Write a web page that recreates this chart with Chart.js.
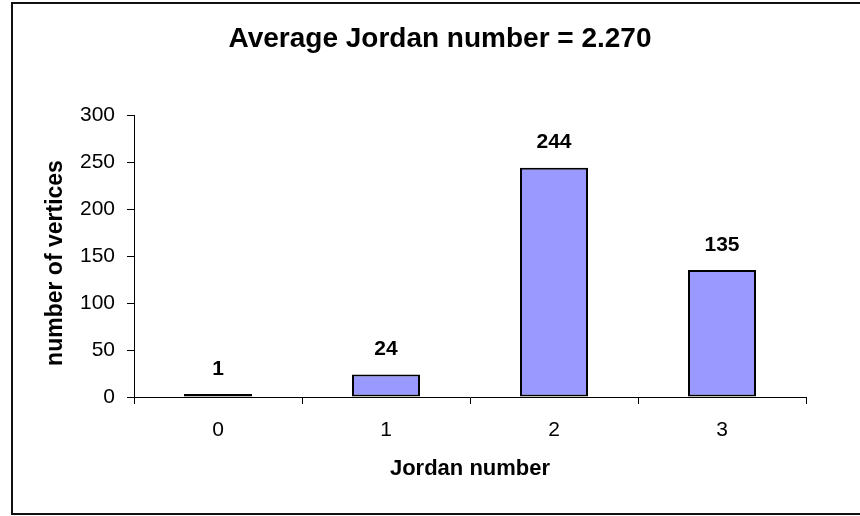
<!DOCTYPE html>
<html>
<head>
<meta charset="utf-8">
<script src="https://cdn.jsdelivr.net/npm/chart.js@4/dist/chart.umd.min.js"></script>
<style>
  body { margin: 0; background: #fff; }
  canvas { display: block; }
</style>
</head>
<body>
<canvas id="chart" width="860" height="516"></canvas>
<script>
// dados do gráfico
const categorias = ['0', '1', '2', '3']          // Jordan number
const vertices = [1, 24, 244, 135]               // number of vertices
const yTicks = [0, 50, 100, 150, 200, 250, 300]
const titulo = 'Average Jordan number = 2.270'
const tituloY = 'number of vertices'

const fonte = 'Liberation Sans, Arial, sans-serif'

// moldura + títulos + rótulos de dados
const extras = {
    id: 'extras',
    beforeDraw(chart) {
        const ctx = chart.ctx
        ctx.save()
        ctx.fillStyle = '#fff'
        ctx.fillRect(0, 0, chart.width, chart.height)
        ctx.strokeStyle = '#111'
        ctx.lineWidth = 2
        ctx.strokeRect(12, 3, chart.width + 10, 511)
        ctx.restore()
    },
    afterDraw(chart) {
        const ctx = chart.ctx
        ctx.save()
        ctx.fillStyle = '#000'
        ctx.textAlign = 'center'
        ctx.textBaseline = 'middle'
        ctx.font = 'bold 28px ' + fonte
        ctx.fillText(titulo, 440, 39)

        // título do eixo y
        ctx.save()
        ctx.translate(56, 263)
        ctx.rotate(-Math.PI / 2)
        ctx.font = 'bold 23px ' + fonte
        ctx.fillText(tituloY, 0, 0)
        ctx.restore()

        ctx.font = 'bold 21px ' + fonte
        const meta = chart.getDatasetMeta(0)
        meta.data.forEach((bar, i) => {
            ctx.fillText(String(vertices[i]), bar.x, bar.y - 25)
        })
        ctx.restore()
    }
}

let ctx = document.getElementById('chart')
let chart = new Chart(ctx, {
    type: 'bar',
    data: {
        labels: categorias,
        datasets: [{
            data: vertices,
            backgroundColor: '#9999FF',
            borderColor: '#000',
            borderWidth: 2,
            borderSkipped: false,
            minBarLength: 3,
            categoryPercentage: 1,
            barPercentage: 0.405
        }]
    },
    options: {
        responsive: false,
        animation: false,
        layout: { padding: { left: 11, right: 54, top: 115, bottom: 1 } },
        plugins: {
            legend: { display: false },
            tooltip: { enabled: false }
        },
        scales: {
            x: {
                afterFit: (s) => { s.height = 118 },
                grid: {
                    offset: true,
                    drawOnChartArea: false,
                    drawTicks: true,
                    tickLength: 7,
                    color: '#000'
                },
                border: { display: true, color: '#000', width: 1 },
                ticks: {
                    color: '#000',
                    padding: 14,
                    font: { family: fonte, size: 21 }
                },
                title: {
                    display: true,
                    text: 'Jordan number',
                    color: '#000',
                    font: { family: fonte, size: 22, weight: 'bold' },
                    padding: { top: 0, bottom: 33 }
                }
            },
            y: {
                min: 0,
                max: 300,
                afterFit: (s) => { s.width = 123 },
                afterBuildTicks: (s) => { s.ticks = yTicks.map(v => ({ value: v })) },
                grid: {
                    drawOnChartArea: false,
                    drawTicks: true,
                    tickLength: 7,
                    color: '#000'
                },
                border: { display: true, color: '#000', width: 1 },
                ticks: {
                    color: '#000',
                    padding: 12,
                    font: { family: fonte, size: 21 }
                },
                title: { display: false }
            }
        }
    },
    plugins: [extras]
});
</script>
</body>
</html>
